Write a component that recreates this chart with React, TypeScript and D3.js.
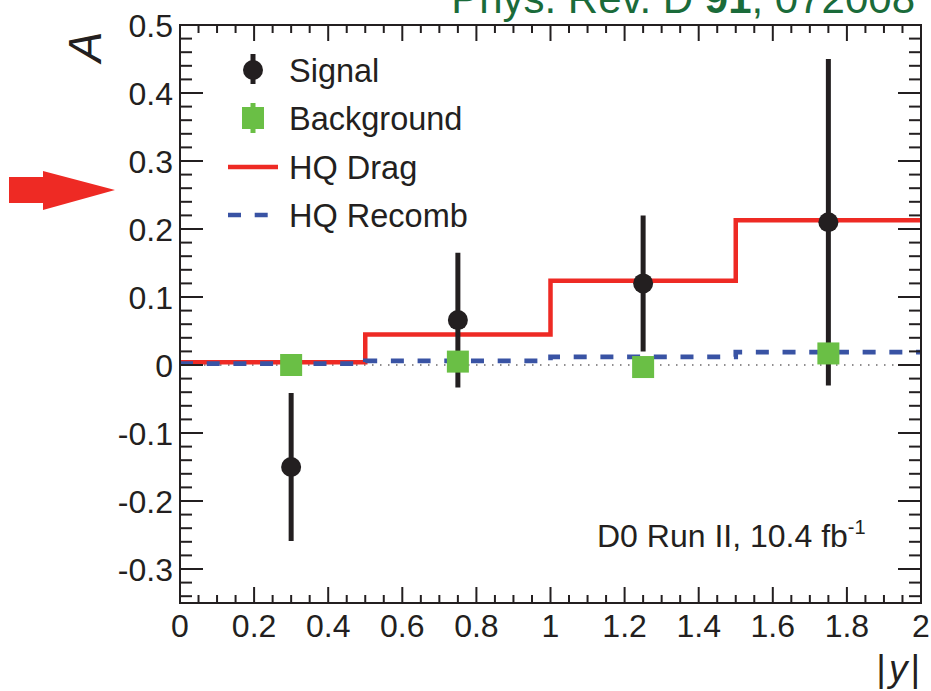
import React from "react";
import * as d3 from "d3";

// Bin edges in |y| and model step predictions per bin
const binEdges = [0, 0.5, 1.0, 1.5, 2.0];
const hqDrag = [0.004, 0.045, 0.124, 0.213];
const hqRecomb = [0.002, 0.006, 0.012, 0.019];

// Measured asymmetries (plotted at the bin's mean |y|)
const pointX = [0.3, 0.75, 1.25, 1.75];
const signalA = [-0.15, 0.066, 0.12, 0.21];
const signalErr = [0.109, 0.099, 0.1, 0.24];
const backgroundA = [0.0, 0.005, -0.003, 0.017];

const xTicksMajor = [0, 0.2, 0.4, 0.6, 0.8, 1, 1.2, 1.4, 1.6, 1.8, 2];
const yTicksMajor = [-0.3, -0.2, -0.1, 0, 0.1, 0.2, 0.3, 0.4, 0.5];
const legendLabels = ["Signal", "Background", "HQ Drag", "HQ Recomb"];

const W = 931;
const H = 691;
const FONT = "'Liberation Sans', Arial, Helvetica, sans-serif";
const RED = "#ee2a24";
const BLUE = "#3953a4";
const GREEN = "#6abf45";
const INK = "#231f20";

export default function App() {
  const x = d3.scaleLinear().domain([0, 2]).range([180, 921]);
  const y = d3.scaleLinear().domain([-0.35, 0.5]).range([603, 25]);
  const [x0, x1] = x.range();
  const [yb, yt] = y.range();

  const xMinor = d3.range(0, 41).map((i) => +(i * 0.05).toFixed(2));
  const yMinor = d3.range(-17, 26).map((i) => +(i * 0.02).toFixed(2));

  const stepLine = (vals: number[]) => {
    const pts: [number, number][] = vals.map((v, i) => [binEdges[i], v]);
    pts.push([binEdges[binEdges.length - 1], vals[vals.length - 1]]);
    return d3
      .line<[number, number]>()
      .x((d) => x(d[0]))
      .y((d) => y(d[1]))
      .curve(d3.curveStepAfter)(pts) as string;
  };

  const fmt = (v: number) => (Math.abs(v) < 1e-9 ? "0" : String(+v.toFixed(1)));

  const legendY = [70, 118, 167, 215];
  const legX = 253;

  return (
    <svg
      width={W}
      height={H}
      style={{ position: "absolute", left: 0, top: 0, background: "#fff" }}
      fontFamily={FONT}
    >
      <rect x={0} y={0} width={W} height={H} fill="#fff" />

      {/* journal reference */}
      <text x={915} y={13} fontSize={42} fill="#1a6b3a" textAnchor="end">
        Phys. Rev. D <tspan fontWeight="bold">91</tspan>, 072008
      </text>

      {/* highlight arrow */}
      <path
        d="M9,177 L43,177 L43,171 L115,190 L43,210 L43,203 L9,203 Z"
        fill={RED}
      />

      {/* zero reference */}
      <line
        x1={x0}
        x2={x1}
        y1={y(0)}
        y2={y(0)}
        stroke={INK}
        strokeWidth={1.2}
        strokeDasharray="1.5 6.5"
      />

      {/* model predictions */}
      <path d={stepLine(hqDrag)} fill="none" stroke={RED} strokeWidth={4.5} />
      <path
        d={stepLine(hqRecomb)}
        fill="none"
        stroke={BLUE}
        strokeWidth={4.6}
        strokeDasharray="13 13.7"
      />

      {/* signal points */}
      {pointX.map((px, i) => (
        <g key={"s" + i}>
          <line
            x1={x(px)}
            x2={x(px)}
            y1={y(signalA[i] + signalErr[i])}
            y2={y(signalA[i] - signalErr[i])}
            stroke={INK}
            strokeWidth={5}
          />
          <circle cx={x(px)} cy={y(signalA[i])} r={10} fill={INK} />
        </g>
      ))}

      {/* background points */}
      {pointX.map((px, i) => (
        <rect
          key={"b" + i}
          x={x(px) - 11}
          y={y(backgroundA[i]) - 11}
          width={22}
          height={22}
          fill={GREEN}
        />
      ))}

      {/* frame */}
      <rect
        x={x0}
        y={yt}
        width={x1 - x0}
        height={yb - yt}
        fill="none"
        stroke={INK}
        strokeWidth={2}
      />

      {/* x ticks (bottom and top) */}
      {xMinor.map((v) => {
        const major = xTicksMajor.some((t) => Math.abs(t - v) < 1e-6);
        const len = major ? 16 : 8;
        return (
          <g key={"xt" + v} stroke={INK} strokeWidth={2}>
            <line x1={x(v)} x2={x(v)} y1={yb} y2={yb - len} />
            <line x1={x(v)} x2={x(v)} y1={yt} y2={yt + len} />
          </g>
        );
      })}

      {/* y ticks (left and right) */}
      {yMinor.map((v) => {
        const major = yTicksMajor.some((t) => Math.abs(t - v) < 1e-6);
        const len = major ? 23 : 12;
        return (
          <g key={"yt" + v} stroke={INK} strokeWidth={2}>
            <line x1={x0} x2={x0 + len} y1={y(v)} y2={y(v)} />
            <line x1={x1} x2={x1 - len} y1={y(v)} y2={y(v)} />
          </g>
        );
      })}

      {/* tick labels */}
      {xTicksMajor.map((v) => (
        <text
          key={"xl" + v}
          x={x(v)}
          y={637}
          fontSize={32}
          textAnchor="middle"
          fill={INK}
        >
          {fmt(v)}
        </text>
      ))}
      {yTicksMajor.map((v) => (
        <text
          key={"yl" + v}
          x={173}
          y={y(v)}
          dy="0.36em"
          fontSize={32}
          textAnchor="end"
          fill={INK}
        >
          {fmt(v)}
        </text>
      ))}

      {/* axis titles */}
      <text x={920} y={681} fontSize={37} textAnchor="end" fill={INK}>
        |<tspan fontStyle="italic" dx={3}>y</tspan>
        <tspan dx={3}>|</tspan>
      </text>
      <text
        transform="translate(101,47) rotate(-90)"
        fontSize={46}
        fontStyle="italic"
        textAnchor="middle"
        fill={INK}
      >
        A
      </text>

      {/* legend */}
      <g>
        <line x1={legX} x2={legX} y1={54} y2={84} stroke={INK} strokeWidth={5} />
        <circle cx={legX} cy={legendY[0]} r={10} fill={INK} />
        <line
          x1={legX}
          x2={legX}
          y1={legendY[1] - 15}
          y2={legendY[1] + 15}
          stroke={GREEN}
          strokeWidth={5}
        />
        <rect x={legX - 11} y={legendY[1] - 11} width={22} height={22} fill={GREEN} />
        <line x1={228} x2={278} y1={legendY[2]} y2={legendY[2]} stroke={RED} strokeWidth={4.5} />
        <line
          x1={228}
          x2={278}
          y1={legendY[3]}
          y2={legendY[3]}
          stroke={BLUE}
          strokeWidth={4.6}
          strokeDasharray="13 13.7"
        />
        {legendLabels.map((l, i) => (
          <text
            key={l}
            x={289}
            y={legendY[i]}
            dy="0.36em"
            fontSize={32.5}
            fill={INK}
          >
            {l}
          </text>
        ))}
      </g>

      {/* run label */}
      <text x={597} y={547} fontSize={32} fill={INK}>
        D0 Run II, 10.4 fb
        <tspan fontSize={20} dy={-13}>
          -1
        </tspan>
      </text>
    </svg>
  );
}
